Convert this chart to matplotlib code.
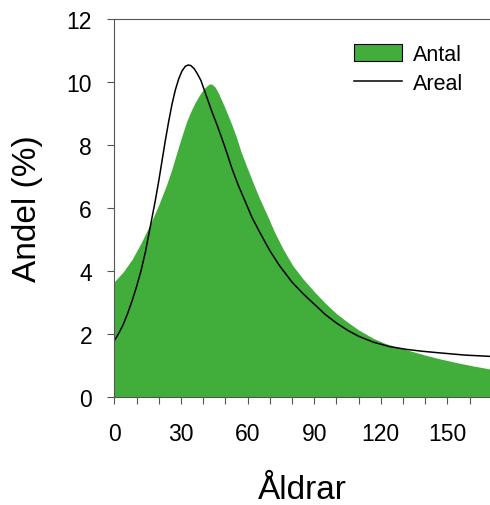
import matplotlib
matplotlib.use("Agg")
import matplotlib.pyplot as plt
from matplotlib.patches import Patch
from matplotlib.lines import Line2D

# Antal (green area)
antal_x = [0, 4, 8, 12, 16.8, 20, 23.6, 26, 28.1, 30.5, 32.6, 34.5, 36.4, 38.5, 40.5, 42.8,
           44, 45.5, 47, 49.1, 51, 52.9, 55, 57, 59.5, 62.5, 65.5, 69, 72.2, 76, 80.4,
           85, 90, 95, 100, 105, 110, 116.7, 122, 128, 134, 140, 146.7, 155, 162, 169.2]
antal_y = [3.66, 3.97, 4.37, 4.88, 5.58, 6.1, 6.75, 7.25, 7.75, 8.3, 8.75, 9.07, 9.35, 9.6, 9.8, 9.94,
           9.93, 9.83, 9.63, 9.3, 8.98, 8.65, 8.25, 7.8, 7.34, 6.8, 6.29, 5.75, 5.23, 4.7, 4.17,
           3.75, 3.35, 2.98, 2.65, 2.38, 2.13, 1.86, 1.7, 1.57, 1.45, 1.33, 1.21, 1.08, 0.98, 0.89]

# Areal (black line)
areal_x = [0, 2, 4, 6, 8, 10, 12, 14, 15.5, 17, 18.5, 20, 21.5, 23, 24.5, 26, 27.5, 29,
           30.5, 32, 33.3, 34.5, 36, 37.5, 39, 40.5, 42, 44, 46.1, 48.5, 50.6, 53, 55.9,
           58.7, 62, 65.5, 70, 74.4, 80, 85, 90, 95, 100, 105, 110, 116.7, 124, 131.7,
           139, 146.7, 158, 169.2]
areal_y = [1.79, 2.02, 2.3, 2.65, 3.05, 3.5, 4.0, 4.6, 5.15, 5.7, 6.25, 6.85, 7.5, 8.15, 8.75,
           9.3, 9.75, 10.1, 10.35, 10.5, 10.54, 10.52, 10.42, 10.25, 10.05, 9.75, 9.45, 9.05,
           8.67, 8.2, 7.77, 7.25, 6.71, 6.25, 5.7, 5.23, 4.65, 4.17, 3.65, 3.28, 2.95, 2.62,
           2.35, 2.12, 1.93, 1.74, 1.6, 1.51, 1.45, 1.40, 1.33, 1.29]

x_major = [0, 30, 60, 90, 120, 150]
x_minor = [10, 20, 40, 50, 70, 80, 100, 110, 130, 140, 160]
y_ticks = [0, 2, 4, 6, 8, 10, 12]

plt.rcParams['font.family'] = ['Liberation Sans', 'DejaVu Sans']

fig = plt.figure(figsize=(4.9, 5.06), dpi=100)
ax = fig.add_axes([114.3 / 490, 108 / 506, (490 - 114.3) / 490, 378 / 506])

green = '#41ad3a'
spine_c = '#555555'

ax.fill_between(antal_x, 0, antal_y, color=green, linewidth=0, zorder=1)
ax.plot(areal_x, areal_y, color='black', linewidth=1.1, zorder=2)

ax.set_xlim(0, 169.2)
ax.set_ylim(0, 12)
ax.set_xticks(x_major)
ax.set_xticks(x_minor, minor=True)
ax.set_yticks(y_ticks)
ax.tick_params(axis='both', which='both', direction='out', length=5, width=0.8,
               color=spine_c, labelsize=16.5)
ax.tick_params(axis='x', which='major', pad=13)
ax.tick_params(axis='y', which='major', pad=11)

for s in ['left', 'bottom', 'top']:
    ax.spines[s].set_color(spine_c)
    ax.spines[s].set_linewidth(0.8)
ax.spines['right'].set_visible(False)

ax.set_xlabel('Åldrar', fontsize=24, labelpad=21)
ax.set_ylabel('Andel (%)', fontsize=24, labelpad=17)

handles = [Patch(facecolor=green, edgecolor='black', linewidth=0.8),
           Line2D([0], [0], color='black', linewidth=1.1)]
fig.legend(handles, ['Antal', 'Areal'], loc='upper left',
           bbox_to_anchor=(354 / 490, 1 - 45 / 506), frameon=False, fontsize=15.5,
           borderpad=0, borderaxespad=0, handlelength=2.25, handleheight=0.85,
           handletextpad=0.5, labelspacing=0.35)

fig.savefig('out.png', dpi=100)
